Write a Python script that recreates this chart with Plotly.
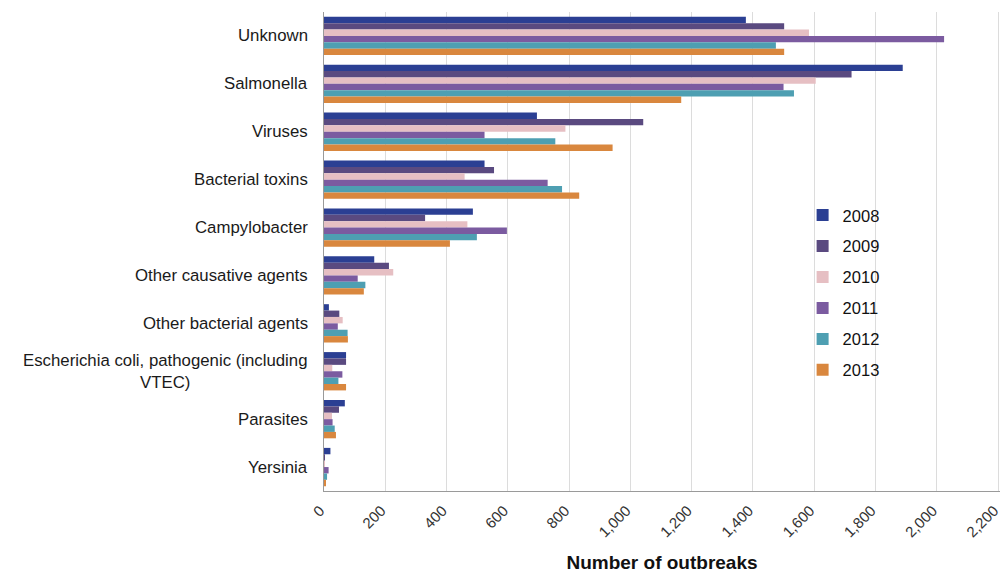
import plotly.graph_objects as go

# Foodborne outbreaks by causative agent, 2008-2013
agents = [
    "Unknown",
    "Salmonella",
    "Viruses",
    "Bacterial toxins",
    "Campylobacter",
    "Other causative agents",
    "Other bacterial agents",
    "Escherichia coli, pathogenic (including<br>VTEC)",
    "Parasites",
    "Yersinia",
]

years = ["2008", "2009", "2010", "2011", "2012", "2013"]

outbreaks_2008 = [1377, 1889, 695, 524, 486, 164, 16, 72, 68, 21]
outbreaks_2009 = [1502, 1722, 1042, 555, 330, 212, 50, 72, 49, 1]
outbreaks_2010 = [1583, 1605, 788, 459, 468, 226, 61, 27, 26, 1]
outbreaks_2011 = [2024, 1500, 524, 730, 597, 110, 45, 60, 28, 15]
outbreaks_2012 = [1475, 1534, 755, 777, 499, 135, 77, 47, 35, 10]
outbreaks_2013 = [1502, 1166, 942, 833, 411, 130, 78, 72, 39, 4]

series = [outbreaks_2008, outbreaks_2009, outbreaks_2010,
          outbreaks_2011, outbreaks_2012, outbreaks_2013]

colors = ["#2b3f93", "#5a4a80", "#e6bfc3", "#7b5ba0", "#4e9fb2", "#d9873e"]

tick_values = [0, 200, 400, 600, 800, 1000, 1200, 1400, 1600, 1800, 2000, 2200]

FONT = "Liberation Sans, Arial, Helvetica, sans-serif"

fig = go.Figure()
for year, values, color in zip(years, series, colors):
    fig.add_trace(go.Bar(
        x=values,
        y=agents,
        name=year,
        orientation="h",
        marker=dict(color=color, line=dict(width=0)),
        legendgroup=year,
    ))

# Category labels, centred line-by-line for wrapped names
for agent in agents:
    fig.add_annotation(
        x=0, xref="paper", y=agent, yref="y",
        text=agent, showarrow=False,
        xanchor="right", yanchor="middle", xshift=-14,
        align="center",
        font=dict(family=FONT, size=16.8, color="#1a1a1a"),
    )

fig.update_layout(
    width=1000, height=575,
    margin=dict(l=324, r=0, t=12, b=84),
    paper_bgcolor="white",
    plot_bgcolor="white",
    barmode="group",
    bargap=0.2,
    bargroupgap=0.0,
    font=dict(family=FONT, size=15, color="#222"),
    showlegend=True,
    legend=dict(
        x=0.708, y=0.612, xanchor="left", yanchor="top",
        bgcolor="rgba(0,0,0,0)",
        font=dict(family=FONT, size=16.5, color="#111"),
        tracegroupgap=6.5,
        itemwidth=30,
    ),
)

fig.update_xaxes(
    range=[0, 2206.5],
    tickvals=tick_values,
    tickformat=",d",
    tickangle=-45,
    ticklabelshift=-4,
    ticklabeloverflow="allow",
    automargin=False,
    showgrid=True,
    gridcolor="#dcdcdc",
    gridwidth=1,
    showline=True,
    linecolor="#9a9a9a",
    linewidth=1,
    zeroline=False,
    ticks="outside",
    ticklen=4,
    tickcolor="rgba(0,0,0,0)",
    tickfont=dict(family=FONT, size=15, color="#333"),
    title=dict(text="<b>Number of outbreaks</b>",
               font=dict(family=FONT, size=19, color="#111"),
               standoff=16),
)

fig.update_yaxes(
    autorange="reversed",
    automargin=False,
    showticklabels=False,
    showgrid=False,
    showline=True,
    linecolor="#9a9a9a",
    linewidth=1,
    ticks="",
)

fig.write_html("out.html")
